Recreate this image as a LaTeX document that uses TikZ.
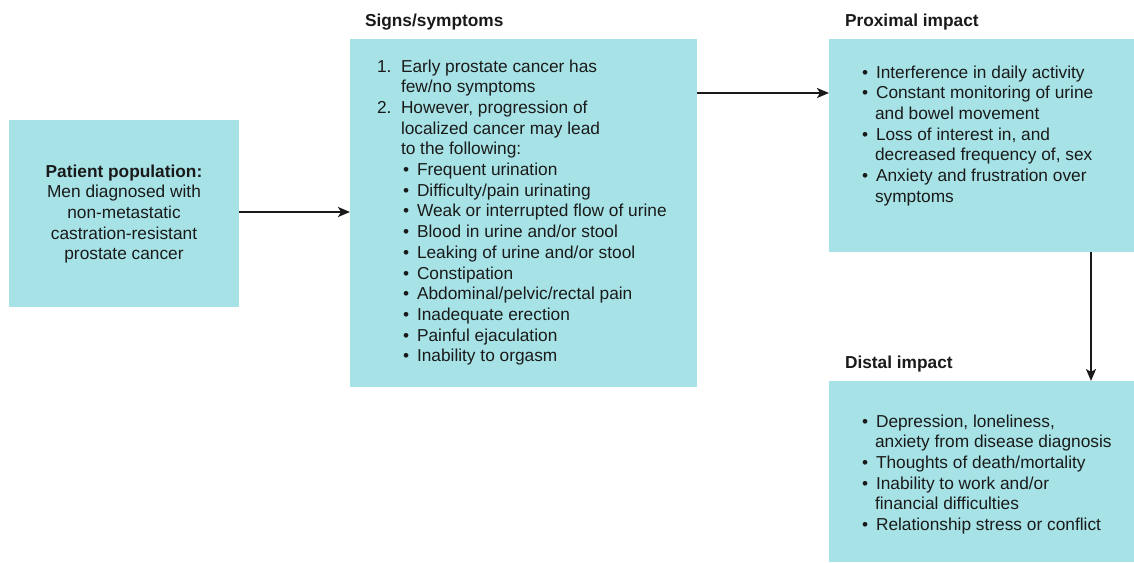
\documentclass[tikz,border=0pt]{standalone}
\usepackage{fontspec}
\setmainfont{Liberation Sans}
\usetikzlibrary{arrows.meta,calc}
\definecolor{boxfill}{HTML}{A7E3E6}
\definecolor{ink}{HTML}{1A1A1A}
\newcommand\bx[1]{\makebox[14pt][l]{\textbullet}#1}
\newcommand\cx[1]{\hspace*{13pt}#1}
\newcommand\nm[2]{\makebox[24pt][l]{#1}#2}
\newcommand\nb[1]{\hspace*{26pt}\makebox[14pt][l]{\textbullet}#1}
\newcommand\nc[1]{\hspace*{24pt}#1}
\tikzset{
  box/.style={fill=boxfill, draw=none, inner sep=0pt, outer sep=0pt, anchor=north west},
  txt/.style={inner sep=0pt, outer sep=0pt, text=ink, font=\fontsize{17.3}{20.7}\selectfont},
  ttl/.style={inner sep=0pt, outer sep=0pt, text=ink, font=\fontsize{17.3}{20}\selectfont\bfseries, anchor=base west},
  arr/.style={draw=ink, line width=2pt, -{Stealth[length=12pt,width=10pt,inset=3pt]}}
}
\begin{document}
\begin{tikzpicture}[x=1pt,y=-1pt]
\useasboundingbox (0,0) rectangle (1134,562);
% boxes
\node[box, minimum width=230pt, minimum height=187pt] (pop) at (9,120) {};
\node[box, minimum width=347pt, minimum height=348pt] (sym) at (350,39) {};
\node[box, minimum width=305pt, minimum height=213pt] (prox) at (829,39) {};
\node[box, minimum width=305pt, minimum height=181pt] (dist) at (829,381) {};
% titles
\node[ttl] (tsym) at (365,26) {Signs/symptoms};
\node[ttl] (tprox) at (845,26) {Proximal impact};
\node[ttl] (tdist) at (845,368) {Distal impact};
% texts
\node[txt, anchor=base] (popt) at (124,177) {\begin{tabular}[t]{@{}c@{}}
\textbf{Patient population:}\\
Men diagnosed with\\
non-metastatic\\
castration-resistant\\
prostate cancer
\end{tabular}};
\node[txt, anchor=base west] (symt) at (377,72) {\begin{tabular}[t]{@{}l@{}}
\nm{1.}{Early prostate cancer has}\\
\nc{few/no symptoms}\\
\nm{2.}{However, progression of}\\
\nc{localized cancer may lead}\\
\nc{to the following:}\\
\nb{Frequent urination}\\
\nb{Difficulty/pain urinating}\\
\nb{Weak or interrupted flow of urine}\\
\nb{Blood in urine and/or stool}\\
\nb{Leaking of urine and/or stool}\\
\nb{Constipation}\\
\nb{Abdominal/pelvic/rectal pain}\\
\nb{Inadequate erection}\\
\nb{Painful ejaculation}\\
\nb{Inability to orgasm}
\end{tabular}};
\node[txt, anchor=base west] (proxt) at (862,78) {\begin{tabular}[t]{@{}l@{}}
\bx{Interference in daily activity}\\
\bx{Constant monitoring of urine}\\
\cx{and bowel movement}\\
\bx{Loss of interest in, and}\\
\cx{decreased frequency of, sex}\\
\bx{Anxiety and frustration over}\\
\cx{symptoms}
\end{tabular}};
\node[txt, anchor=base west] (distt) at (862,427) {\begin{tabular}[t]{@{}l@{}}
\bx{Depression, loneliness,}\\
\cx{anxiety from disease diagnosis}\\
\bx{Thoughts of death/mortality}\\
\bx{Inability to work and/or}\\
\cx{financial difficulties}\\
\bx{Relationship stress or conflict}
\end{tabular}};
% arrows
\coordinate (a1) at ($(pop.north east)+(0,92)$);
\draw[arr] (a1) -- (a1 -| sym.west);
\coordinate (a2) at ($(sym.north east)+(0,54)$);
\draw[arr] (a2) -- (a2 -| prox.west);
\coordinate (a3) at ($(prox.south west)+(262,0)$);
\draw[arr] (a3) -- (a3 |- dist.north);
\end{tikzpicture}
\end{document}
